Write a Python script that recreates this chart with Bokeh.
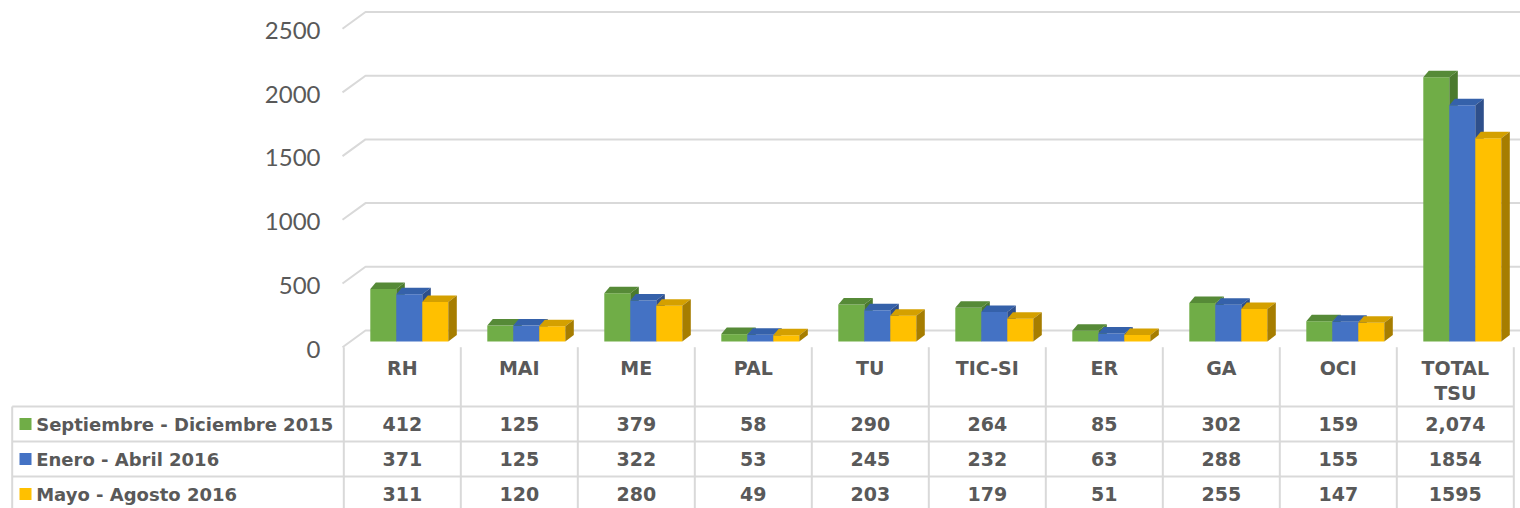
from bokeh.plotting import figure
from bokeh.models import Range1d
from bokeh.core.properties import value
from bokeh.embed import file_html
from bokeh.resources import INLINE

# ---------------- data ----------------
categories = ["RH", "MAI", "ME", "PAL", "TU", "TIC-SI", "ER", "GA", "OCI", "TOTAL TSU"]
series_names = ["Septiembre - Diciembre 2015", "Enero - Abril 2016", "Mayo - Agosto 2016"]
sep_dic_2015 = [412, 125, 379, 58, 290, 264, 85, 302, 159, 2074]
ene_abr_2016 = [371, 125, 322, 53, 245, 232, 63, 288, 155, 1854]
may_ago_2016 = [311, 120, 280, 49, 203, 179, 51, 255, 147, 1595]
sep_dic_2015_labels = ["412", "125", "379", "58", "290", "264", "85", "302", "159", "2,074"]
ene_abr_2016_labels = ["371", "125", "322", "53", "245", "232", "63", "288", "155", "1854"]
may_ago_2016_labels = ["311", "120", "280", "49", "203", "179", "51", "255", "147", "1595"]
y_ticks = [0, 500, 1000, 1500, 2000, 2500]
y_tick_labels = ["0", "500", "1000", "1500", "2000", "2500"]

series = [sep_dic_2015, ene_abr_2016, may_ago_2016]
series_labels = [sep_dic_2015_labels, ene_abr_2016_labels, may_ago_2016_labels]
front_colors = ["#70AD47", "#4472C4", "#FFC000"]
top_colors = ["#568A37", "#3561AA", "#D4A000"]
side_colors = ["#4B7A2E", "#2E4F8B", "#A67D00"]

# ---------------- layout (pixel based helpers) ----------------
W, H = 1520, 508
PAGE = 0
COL_PX = 117.0
COL0 = 343.3            # page x of first table column
PXU = 0.1274            # pixels per value unit
BASE = 341.0            # page y of value 0 on the bar fronts


def xp(page_x):
    return (page_x - COL0) / COL_PX


def yp(page_y):
    return (BASE - page_y) / PXU


def dxp(px):
    return px / COL_PX


def dyp(px):
    return px / PXU


p = figure(width=W, height=H, output_backend="svg", toolbar_location=None,
           x_range=Range1d(xp(PAGE), xp(PAGE + W)),
           y_range=Range1d(yp(PAGE + H), yp(PAGE)),
           min_border=0, min_border_left=0, min_border_right=0,
           min_border_top=0, min_border_bottom=0)
p.axis.visible = False
p.grid.visible = False
p.outline_line_color = None
p.background_fill_color = "white"
p.border_fill_color = "white"

GRID = "#D9D9D9"
TXT = "#595959"
TICK_FONT = value("Lato")
FONT = value("DejaVu Sans")

# ---------------- wall gridlines ----------------
xs, ys = [], []
for t in y_ticks:
    xs.append([xp(342), xp(365), xp(1525)])
    ys.append([t + dyp(341 - 346.7), t + dyp(341 - 330), t + dyp(341 - 330)])
p.multi_line(xs, ys, line_color=GRID, line_width=2)

# y tick labels
p.text(x=[xp(320)] * len(y_ticks), y=[t + dyp(341 - 348.5) for t in y_ticks],
       text=y_tick_labels, text_align="right", text_baseline="middle",
       text_font=TICK_FONT, text_font_size="24px", text_color=TXT)

# ---------------- 3D bars ----------------
OFF = dxp(26.5)
BW = dxp(26.0)
DXL = dxp(5.5)
DXR = dxp(8.5)
DY = dyp(6.5)

for s, vals in enumerate(series):
    lefts = [i + OFF + s * BW for i in range(len(vals))]
    rights = [l + BW for l in lefts]
    p.quad(left=lefts, right=rights, bottom=[0] * len(vals), top=vals,
           fill_color=front_colors[s], line_color=None)
    tx = [[l, r, r + DXR, l + DXL] for l, r in zip(lefts, rights)]
    ty = [[v, v, v + DY, v + DY] for v in vals]
    p.patches(tx, ty, fill_color=top_colors[s], line_color=None)
    sx = [[r, r, r + DXR, r + DXR] for r in rights]
    sy = [[0, v, v + DY, DY] for v in vals]
    p.patches(sx, sy, fill_color=side_colors[s], line_color=None)

# ---------------- data table ----------------
n = len(categories)
row_lines = [406, 441, 476, 511]
hx = [[xp(11.7), xp(COL0 + n * COL_PX)] for _ in row_lines]
hy = [[yp(r), yp(r)] for r in row_lines]
p.multi_line(hx, hy, line_color=GRID, line_width=2)
vx = [[xp(11.7), xp(11.7)]] + [[k, k] for k in range(n + 1)]
vy = [[yp(406), yp(515)]] + [[yp(346.7), yp(515)] for _ in range(n + 1)]
p.multi_line(vx, vy, line_color=GRID, line_width=2)

# header (category names)
hxs, hys, htx = [], [], []
for i, c in enumerate(categories):
    for j, part in enumerate(c.split(" ")):
        hxs.append(i + 0.5)
        hys.append(yp(367 + 25 * j))
        htx.append(part)
p.text(x=hxs, y=hys, text=htx, text_align="center", text_baseline="middle",
       text_font=FONT, text_font_style="bold", text_font_size="19px", text_color=TXT)

row_centers = [423.5, 458.5, 493.5]
for s in range(len(series)):
    p.text(x=[i + 0.5 for i in range(n)], y=[yp(row_centers[s])] * n,
           text=series_labels[s], text_align="center", text_baseline="middle",
           text_font=FONT, text_font_style="bold", text_font_size="19px", text_color=TXT)

# legend keys inside table
p.rect(x=[xp(25)] * 3, y=[yp(r) for r in row_centers], width=dxp(12), height=dyp(12),
       fill_color=front_colors, line_color=None)
p.text(x=[xp(35.7)] * 3, y=[yp(r) for r in row_centers], text=series_names,
       text_align="left", text_baseline="middle",
       text_font=FONT, text_font_style="bold", text_font_size="18px", text_color=TXT)

open("out.html", "w").write(file_html(p, INLINE))
